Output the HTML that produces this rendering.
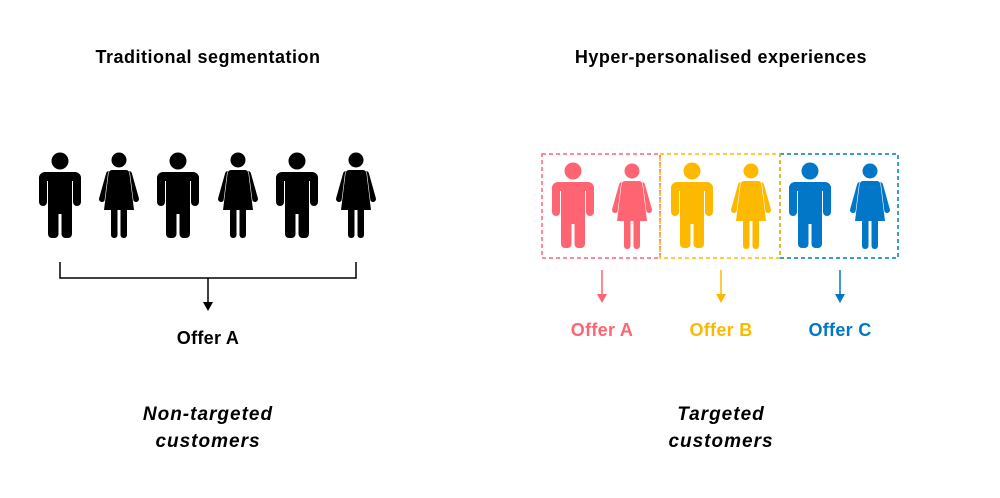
<!DOCTYPE html>
<html><head><meta charset="utf-8"><style>
html,body{margin:0;padding:0;background:#fff;width:1000px;height:498px;overflow:hidden}
svg text{font-family:"Liberation Sans",sans-serif;font-weight:bold}
</style></head><body>
<svg width="1000" height="498" viewBox="0 0 1000 498" xmlns="http://www.w3.org/2000/svg">
<defs>
<g id="man" fill="currentColor">
<circle cx="0" cy="0" r="8.5"/>
<rect x="-21" y="11" width="42" height="12" rx="6"/>
<rect x="-21" y="13" width="8" height="32" rx="4"/>
<rect x="13" y="13" width="8" height="32" rx="4"/>
<rect x="-12" y="11" width="24" height="42"/>
<rect x="-12" y="40" width="10.5" height="37" rx="4"/>
<rect x="1.5" y="40" width="10.5" height="37" rx="4"/>
<line x1="-12.5" y1="20" x2="-12.5" y2="45" stroke="#fff" stroke-width="1"/>
<line x1="12.5" y1="20" x2="12.5" y2="45" stroke="#fff" stroke-width="1"/>
</g>
<g id="woman" fill="currentColor">
<circle cx="0" cy="0" r="7.5"/>
<line x1="-10" y1="14" x2="-17" y2="39" stroke="currentColor" stroke-width="6" stroke-linecap="round"/>
<line x1="10" y1="14" x2="17" y2="39" stroke="currentColor" stroke-width="6" stroke-linecap="round"/>
<path d="M-7 10 H7 Q10 10 10.5 14 L15 50 H-15 L-10.5 14 Q-10 10 -7 10 Z" stroke="#fff" stroke-width="1.2"/>
<path d="M-7 10 H7 Q10 10 10.5 14 L15 50 H-15 L-10.5 14 Q-10 10 -7 10 Z"/>
<rect x="-8" y="45" width="6.5" height="33" rx="3"/>
<rect x="1.5" y="45" width="6.5" height="33" rx="3"/>
</g>
</defs>

<text x="208" y="63" font-size="18" letter-spacing="0.5" text-anchor="middle" fill="#000">Traditional segmentation</text>
<text x="721" y="63" font-size="18" letter-spacing="0.5" text-anchor="middle" fill="#000">Hyper-personalised experiences</text>

<g color="#000">
<use href="#man" x="60" y="161"/>
<use href="#woman" x="119" y="160"/>
<use href="#man" x="178" y="161"/>
<use href="#woman" x="238" y="160"/>
<use href="#man" x="297" y="161"/>
<use href="#woman" x="356" y="160"/>
</g>

<path d="M60 262 V278 H356 V262" fill="none" stroke="#000" stroke-width="1.5"/>
<line x1="208" y1="278" x2="208" y2="303" stroke="#000" stroke-width="1.5"/>
<path d="M203 302 L213 302 L208 311 Z" fill="#000"/>
<text x="208" y="344" font-size="18" letter-spacing="0.3" text-anchor="middle" fill="#000">Offer A</text>

<g color="#FF6472">
<use href="#man" x="573" y="171"/>
<use href="#woman" x="632" y="171"/>
</g>
<g color="#FDB900">
<use href="#man" x="692" y="171"/>
<use href="#woman" x="751" y="171"/>
</g>
<g color="#0277C8">
<use href="#man" x="810" y="171"/>
<use href="#woman" x="870" y="171"/>
</g>

<rect x="542" y="154" width="118" height="104" fill="none" stroke="#FF6472" stroke-width="1.5" stroke-dasharray="4,3"/>
<rect x="780" y="154" width="118" height="104" fill="none" stroke="#0277C8" stroke-width="1.5" stroke-dasharray="4,3"/>
<rect x="660" y="154" width="120" height="104" fill="none" stroke="#FDB900" stroke-width="1.5" stroke-dasharray="4,3"/>

<line x1="602" y1="270" x2="602" y2="295" stroke="#FF6472" stroke-width="1.5"/>
<path d="M597 294 L607 294 L602 303 Z" fill="#FF6472"/>
<line x1="721" y1="270" x2="721" y2="295" stroke="#FDB900" stroke-width="1.5"/>
<path d="M716 294 L726 294 L721 303 Z" fill="#FDB900"/>
<line x1="840" y1="270" x2="840" y2="295" stroke="#0277C8" stroke-width="1.5"/>
<path d="M835 294 L845 294 L840 303 Z" fill="#0277C8"/>

<text x="602" y="336" font-size="18" letter-spacing="0.3" text-anchor="middle" fill="#FF6472">Offer A</text>
<text x="721" y="336" font-size="18" letter-spacing="0.3" text-anchor="middle" fill="#FDB900">Offer B</text>
<text x="840" y="336" font-size="18" letter-spacing="0.3" text-anchor="middle" fill="#0277C8">Offer C</text>

<text x="208" y="420" font-size="19" letter-spacing="1" font-style="italic" text-anchor="middle" fill="#000">Non-targeted</text>
<text x="208" y="447" font-size="19" letter-spacing="1" font-style="italic" text-anchor="middle" fill="#000">customers</text>
<text x="721" y="420" font-size="19" letter-spacing="1" font-style="italic" text-anchor="middle" fill="#000">Targeted</text>
<text x="721" y="447" font-size="19" letter-spacing="1" font-style="italic" text-anchor="middle" fill="#000">customers</text>
</svg>
</body></html>
